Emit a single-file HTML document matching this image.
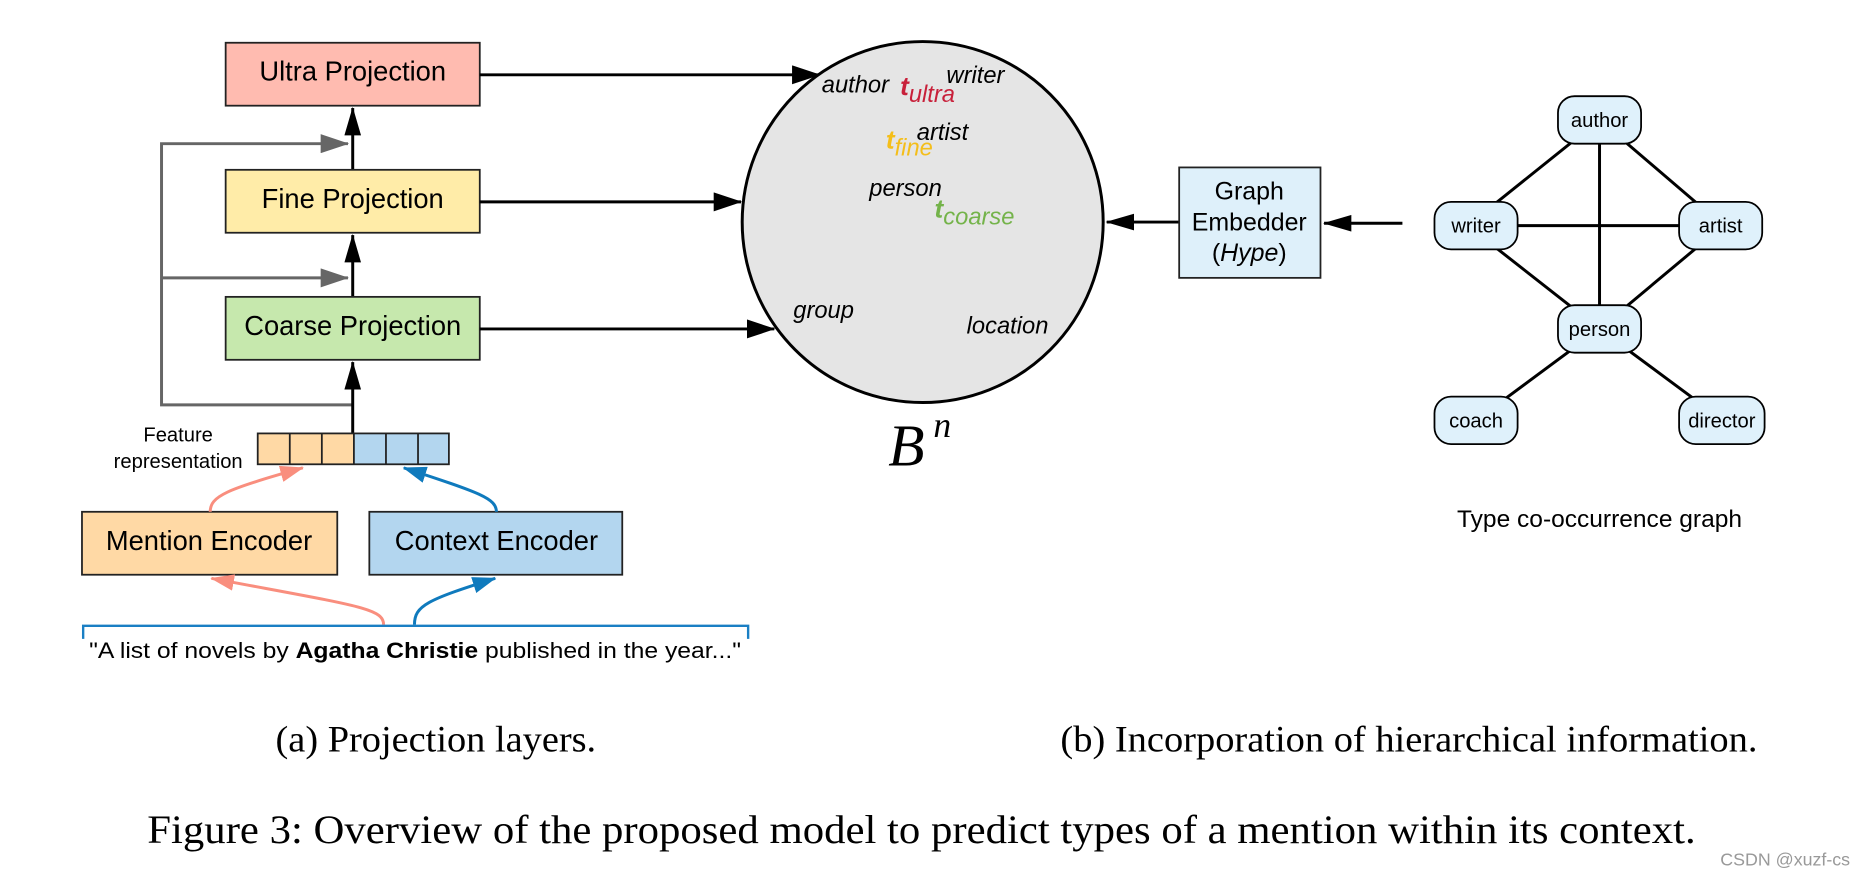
<!DOCTYPE html>
<html><head><meta charset="utf-8"><style>
html,body{margin:0;padding:0;background:#fff;width:1862px;height:878px;overflow:hidden}
svg{display:block}
text{font-family:"Liberation Sans",sans-serif}
.s{font-family:"Liberation Serif",serif}
</style></head><body>
<svg width="1862" height="878" viewBox="0 0 1568 739.4" xmlns="http://www.w3.org/2000/svg">
<defs>
<marker id="abig" markerWidth="24" markerHeight="16" refX="23" refY="8" orient="auto" markerUnits="userSpaceOnUse"><path d="M0,0 L24,8 L0,16z" fill="#000"/></marker>
<marker id="av" markerWidth="24" markerHeight="14" refX="23" refY="7" orient="auto" markerUnits="userSpaceOnUse"><path d="M0,0 L24,7 L0,14z" fill="#000"/></marker>
<marker id="ag" markerWidth="24" markerHeight="16" refX="23" refY="8" orient="auto" markerUnits="userSpaceOnUse"><path d="M0,0 L24,8 L0,16z" fill="#666"/></marker>
<marker id="as" markerWidth="20" markerHeight="14" refX="19" refY="7" orient="auto" markerUnits="userSpaceOnUse"><path d="M0,0 L20,7 L0,14z" fill="#f98e7e"/></marker>
<marker id="abl" markerWidth="20" markerHeight="14" refX="19" refY="7" orient="auto" markerUnits="userSpaceOnUse"><path d="M0,0 L20,7 L0,14z" fill="#0f7abd"/></marker>
</defs>
<path d="M297,341 H136 V121 H293" fill="none" stroke="#666" stroke-width="2.5" marker-end="url(#ag)"/>
<path d="M136,234 H293" fill="none" stroke="#666" stroke-width="2.5" marker-end="url(#ag)"/>
<line x1="297" y1="143" x2="297" y2="91" stroke="#000" stroke-width="2.5" marker-end="url(#av)"/>
<line x1="297" y1="250" x2="297" y2="198" stroke="#000" stroke-width="2.5" marker-end="url(#av)"/>
<line x1="297" y1="365" x2="297" y2="305" stroke="#000" stroke-width="2.5" marker-end="url(#av)"/>
<rect x="190" y="36" width="214" height="53" fill="#ffbbb0" stroke="#222" stroke-width="1.5"/>
<text x="297" y="68" font-size="23" text-anchor="middle">Ultra Projection</text>
<rect x="190" y="143" width="214" height="53" fill="#ffeca8" stroke="#222" stroke-width="1.5"/>
<text x="297" y="175" font-size="23" text-anchor="middle">Fine Projection</text>
<rect x="190" y="250" width="214" height="53" fill="#c6e8ad" stroke="#222" stroke-width="1.5"/>
<text x="297" y="282" font-size="23" text-anchor="middle">Coarse Projection</text>
<line x1="404" y1="63" x2="690" y2="63" stroke="#000" stroke-width="2.5" marker-end="url(#abig)"/>
<line x1="404" y1="170" x2="624" y2="170" stroke="#000" stroke-width="2.5" marker-end="url(#abig)"/>
<line x1="404" y1="277" x2="652" y2="277" stroke="#000" stroke-width="2.5" marker-end="url(#abig)"/>
<text x="150" y="372" font-size="17" text-anchor="middle">Feature</text>
<text x="150" y="394" font-size="17" text-anchor="middle">representation</text>
<rect x="217" y="365" width="81" height="26" fill="#ffd9a5"/>
<rect x="298" y="365" width="80" height="26" fill="#b3d6ef"/>
<g stroke="#222" stroke-width="1.5" fill="none">
<rect x="217" y="365" width="161" height="26"/>
<line x1="244" y1="365" x2="244" y2="391"/><line x1="271" y1="365" x2="271" y2="391"/><line x1="298" y1="365" x2="298" y2="391"/><line x1="325" y1="365" x2="325" y2="391"/><line x1="352" y1="365" x2="352" y2="391"/>
</g>
<rect x="69" y="431" width="215" height="53" fill="#ffd9a5" stroke="#222" stroke-width="1.5"/>
<text x="176" y="463" font-size="23" text-anchor="middle">Mention Encoder</text>
<rect x="311" y="431" width="213" height="53" fill="#b3d6ef" stroke="#222" stroke-width="1.5"/>
<text x="418" y="463" font-size="23" text-anchor="middle">Context Encoder</text>
<path d="M177,431 C177,418 190,412 255,394" fill="none" stroke="#f98e7e" stroke-width="2.5" marker-end="url(#as)"/>
<path d="M418,431 C418,420 405,415 340,394" fill="none" stroke="#0f7abd" stroke-width="2.5" marker-end="url(#abl)"/>
<path d="M323,526 C323,512 300,510 178,487" fill="none" stroke="#f98e7e" stroke-width="2.5" marker-end="url(#as)"/>
<path d="M349,526 C349,510 360,505 417,487" fill="none" stroke="#0f7abd" stroke-width="2.5" marker-end="url(#abl)"/>
<path d="M70,538 V527 H630 V538" fill="none" stroke="#1a7fc4" stroke-width="2"/>
<text x="75" y="554" font-size="19" textLength="549" lengthAdjust="spacingAndGlyphs">"A list of novels by <tspan font-weight="bold">Agatha Christie</tspan> published in the year..."</text>
<circle cx="777" cy="187" r="152" fill="#e5e5e5" stroke="#000" stroke-width="2.5"/>
<g font-size="20" font-style="italic">
<text x="692" y="78">author</text>
<text x="797" y="70">writer</text>
<text x="772" y="118">artist</text>
<text x="732" y="165">person</text>
<text x="668" y="268">group</text>
<text x="814" y="281">location</text>
</g>
<text x="758" y="80" font-size="22" font-style="italic" font-weight="bold" fill="#c8203a">t<tspan font-size="20" font-weight="normal" dy="6">ultra</tspan></text>
<text x="746" y="125" font-size="22" font-style="italic" font-weight="bold" fill="#f4be1a">t<tspan font-size="20" font-weight="normal" dy="6">fine</tspan></text>
<text x="787" y="183" font-size="22" font-style="italic" font-weight="bold" fill="#74b34a">t<tspan font-size="20" font-weight="normal" dy="6">coarse</tspan></text>
<text x="748" y="392" class="s" font-size="50" font-style="italic">B</text>
<text x="786" y="368" class="s" font-size="30" font-style="italic">n</text>
<line x1="993" y1="187" x2="932" y2="187" stroke="#000" stroke-width="2.5" marker-end="url(#av)"/>
<line x1="1181" y1="188" x2="1115" y2="188" stroke="#000" stroke-width="2.5" marker-end="url(#av)"/>
<rect x="993" y="141" width="119" height="93" fill="#def0fa" stroke="#222" stroke-width="1.5"/>
<text x="1052" y="168" font-size="21" text-anchor="middle">Graph</text>
<text x="1052" y="194" font-size="21" text-anchor="middle">Embedder</text>
<text x="1052" y="220" font-size="21" text-anchor="middle">(<tspan font-style="italic">Hype</tspan>)</text>
<g stroke="#000" stroke-width="2.5">
<line x1="1347" y1="101" x2="1347" y2="277"/>
<line x1="1236" y1="190" x2="1451" y2="190"/>
<line x1="1347" y1="101" x2="1236" y2="190"/>
<line x1="1347" y1="101" x2="1451" y2="190"/>
<line x1="1236" y1="190" x2="1347" y2="277"/>
<line x1="1451" y1="190" x2="1347" y2="277"/>
<line x1="1347" y1="277" x2="1243" y2="354"/>
<line x1="1347" y1="277" x2="1451" y2="354"/>
</g>
<g fill="#dff1fb" stroke="#000" stroke-width="1.5">
<rect x="1312" y="81" width="70" height="40" rx="14"/>
<rect x="1208" y="170" width="70" height="40" rx="14"/>
<rect x="1414" y="170" width="70" height="40" rx="14"/>
<rect x="1312" y="257" width="70" height="40" rx="14"/>
<rect x="1208" y="334" width="70" height="40" rx="14"/>
<rect x="1414" y="334" width="72" height="40" rx="14"/>
</g>
<g font-size="17" text-anchor="middle">
<text x="1347" y="107">author</text>
<text x="1243" y="196">writer</text>
<text x="1449" y="196">artist</text>
<text x="1347" y="283">person</text>
<text x="1243" y="360">coach</text>
<text x="1450" y="360">director</text>
</g>
<text x="1227" y="444" font-size="20" textLength="240" lengthAdjust="spacingAndGlyphs">Type co-occurrence graph</text>
<text x="232" y="633" class="s" font-size="31" textLength="270" lengthAdjust="spacingAndGlyphs">(a) Projection layers.</text>
<text x="893" y="633" class="s" font-size="31" textLength="587" lengthAdjust="spacingAndGlyphs">(b) Incorporation of hierarchical information.</text>
<text x="124" y="710" class="s" font-size="34" textLength="1304" lengthAdjust="spacingAndGlyphs">Figure 3: Overview of the proposed model to predict types of a mention within its context.</text>
<text x="1558" y="729" font-size="15" fill="#999" text-anchor="end">CSDN @xuzf-cs</text>
</svg>
</body></html>
